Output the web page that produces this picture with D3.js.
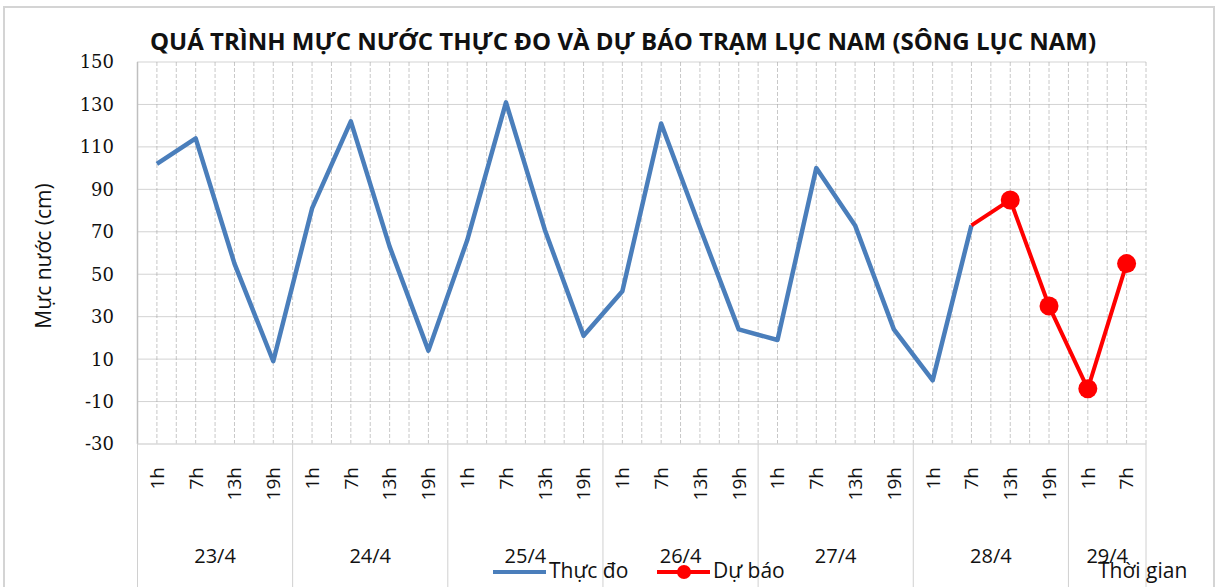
<!DOCTYPE html>
<html>
<head>
<meta charset="utf-8">
<script src="https://cdn.jsdelivr.net/npm/d3@7"></script>
<style>
  body { margin: 0; background: #fff; }
  svg { display: block; }
</style>
</head>
<body>
<div id="chart"></div>
<script>
var width = 1218;
var height = 587;
var margin = {top: 62, right: 72, bottom: 143, left: 137.5};

// ngày và giờ quan trắc
var days = ["23/4", "24/4", "25/4", "26/4", "27/4", "28/4", "29/4"];
var hours = ["1h", "7h", "13h", "19h"];
var hoursPerDay = [4, 4, 4, 4, 4, 4, 2];

// mực nước thực đo (cm), từ 23/4 1h đến 28/4 7h
var thucDo = [102, 114, 55, 9, 81, 122, 63, 14, 66, 131, 71, 21,
              42, 121, 72, 24, 19, 100, 73, 24, 0, 73];
// dự báo (cm), từ 28/4 7h đến 29/4 7h
var duBao = [73, 85, 35, -4, 55];
var duBaoStart = 21;

var yTicks = [150, 130, 110, 90, 70, 50, 30, 10, -10, -30];

var categories = [];
days.forEach(function(d, i) {
    for (var k = 0; k < hoursPerDay[i]; k++) categories.push({day: d, hour: hours[k], dayIndex: i});
});

var x0 = margin.left, x1 = width - margin.right;
var y0 = margin.top, y1 = height - margin.bottom;

var xScale = d3.scaleBand().domain(d3.range(categories.length)).range([x0, x1]);
var yScale = d3.scaleLinear().domain([-30, 150]).range([y1, y0]);
var bw = xScale.bandwidth();
function cx(i) { return xScale(i) + bw / 2; }

var svg = d3.select("#chart").append("svg")
    .attr("width", width)
    .attr("height", height);

// khung ngoài
svg.append("rect")
    .attr("x", 4).attr("y", 7)
    .attr("width", 1210).attr("height", 600)
    .attr("fill", "#fff")
    .attr("stroke", "#d4d4d4")
    .attr("stroke-width", 2);

// lưới dọc (giữa và mép mỗi ô)
var vLines = [];
for (var i = 0; i < categories.length; i++) { vLines.push(xScale(i)); vLines.push(cx(i)); }
vLines.push(x1);
svg.append("g").selectAll("line")
    .data(vLines.slice(1))
    .enter().append("line")
        .attr("x1", function(d) { return d; })
        .attr("x2", function(d) { return d; })
        .attr("y1", y0).attr("y2", y1)
        .attr("stroke", "#c8c8c8")
        .attr("stroke-width", 1)
        .attr("stroke-dasharray", "4,2");

// lưới ngang
svg.append("g").selectAll("line")
    .data(yTicks.slice(0, -1))
    .enter().append("line")
        .attr("x1", x0).attr("x2", x1)
        .attr("y1", function(d) { return yScale(d); })
        .attr("y2", function(d) { return yScale(d); })
        .attr("stroke", "#a6a6a6")
        .attr("stroke-width", 1)
        .attr("stroke-dasharray", "1,1");

// trục
svg.append("line")
    .attr("x1", x0).attr("x2", x0).attr("y1", y0).attr("y2", y1)
    .attr("stroke", "#bfbfbf").attr("stroke-width", 1.5);
svg.append("line")
    .attr("x1", x0).attr("x2", x1).attr("y1", y1).attr("y2", y1)
    .attr("stroke", "#d9d9d9").attr("stroke-width", 1.5);

// vạch ngăn ngày
var dayEdges = [0];
var acc = 0;
hoursPerDay.forEach(function(n) { acc += n; dayEdges.push(acc); });
svg.append("g").selectAll("line")
    .data(dayEdges)
    .enter().append("line")
        .attr("x1", function(d) { return d < categories.length ? xScale(d) : x1; })
        .attr("x2", function(d) { return d < categories.length ? xScale(d) : x1; })
        .attr("y1", y1).attr("y2", height)
        .attr("stroke", "#d0d0d0").attr("stroke-width", 1);

// nhãn trục y
svg.append("g").selectAll("text")
    .data(yTicks)
    .enter().append("text")
        .attr("x", 114)
        .attr("y", function(d) { return yScale(d); })
        .attr("dy", "0.36em")
        .attr("text-anchor", "end")
        .attr("font-family", "DejaVu Serif, Liberation Serif, serif")
        .attr("font-size", 18)
        .attr("fill", "#111")
        .text(function(d) { return d; });

// nhãn giờ (xoay)
svg.append("g").selectAll("text")
    .data(categories)
    .enter().append("text")
        .attr("transform", function(d, i) { return "translate(" + cx(i) + ",467) rotate(-90)"; })
        .attr("dy", "0.36em")
        .attr("text-anchor", "end")
        .attr("font-family", "Open Sans")
        .attr("font-size", 19)
        .attr("fill", "#111")
        .text(function(d) { return d.hour; });

// nhãn ngày
svg.append("g").selectAll("text")
    .data(days)
    .enter().append("text")
        .attr("x", function(d, i) {
            var a = xScale(dayEdges[i]);
            var b = dayEdges[i + 1] < categories.length ? xScale(dayEdges[i + 1]) : x1;
            return (a + b) / 2;
        })
        .attr("y", 563)
        .attr("text-anchor", "middle")
        .attr("font-family", "Open Sans")
        .attr("font-size", 20)
        .attr("fill", "#111")
        .text(function(d) { return d; });

// đường thực đo
var line = d3.line()
    .x(function(d) { return cx(d.i); })
    .y(function(d) { return yScale(d.v); });

svg.append("path")
    .datum(thucDo.map(function(v, i) { return {i: i, v: v}; }))
    .attr("d", line)
    .attr("fill", "none")
    .attr("stroke", "#4a7ebb")
    .attr("stroke-width", 4.5)
    .attr("stroke-linejoin", "round");

// đường dự báo
var dbData = duBao.map(function(v, k) { return {i: duBaoStart + k, v: v}; });
svg.append("path")
    .datum(dbData)
    .attr("d", line)
    .attr("fill", "none")
    .attr("stroke", "#ff0000")
    .attr("stroke-width", 4)
    .attr("stroke-linejoin", "round");

svg.append("g").selectAll("circle")
    .data(dbData.slice(1))
    .enter().append("circle")
        .attr("cx", function(d) { return cx(d.i); })
        .attr("cy", function(d) { return yScale(d.v); })
        .attr("r", 9.5)
        .attr("fill", "#ff0000");

// tiêu đề
svg.append("text")
    .attr("x", 623).attr("y", 50)
    .attr("text-anchor", "middle")
    .attr("font-family", "Open Sans")
    .attr("font-weight", "bold")
    .attr("font-size", 24)
    .attr("fill", "#111")
    .text("QUÁ TRÌNH MỰC NƯỚC THỰC ĐO VÀ DỰ BÁO TRẠM LỤC NAM (SÔNG LỤC NAM)");

// tiêu đề trục y
svg.append("text")
    .attr("transform", "translate(44,256) rotate(-90)")
    .attr("dy", "0.35em")
    .attr("text-anchor", "middle")
    .attr("font-family", "Open Sans")
    .attr("font-size", 21)
    .attr("fill", "#111")
    .text("Mực nước (cm)");

// tiêu đề trục x
svg.append("text")
    .attr("x", 1098).attr("y", 578)
    .attr("font-family", "Open Sans")
    .attr("font-size", 21)
    .attr("fill", "#111")
    .text("Thời gian");

// chú giải
var legend = svg.append("g");
legend.append("line")
    .attr("x1", 493).attr("x2", 546).attr("y1", 572).attr("y2", 572)
    .attr("stroke", "#4a7ebb").attr("stroke-width", 4);
legend.append("text")
    .attr("x", 549).attr("y", 578)
    .attr("font-family", "Open Sans").attr("font-size", 21).attr("fill", "#111")
    .text("Thực đo");
legend.append("line")
    .attr("x1", 657).attr("x2", 710).attr("y1", 572).attr("y2", 572)
    .attr("stroke", "#ff0000").attr("stroke-width", 4);
legend.append("circle")
    .attr("cx", 684).attr("cy", 572).attr("r", 7)
    .attr("fill", "#ff0000");
legend.append("text")
    .attr("x", 713).attr("y", 578)
    .attr("font-family", "Open Sans").attr("font-size", 21).attr("fill", "#111")
    .text("Dự báo");
</script>
</body>
</html>
